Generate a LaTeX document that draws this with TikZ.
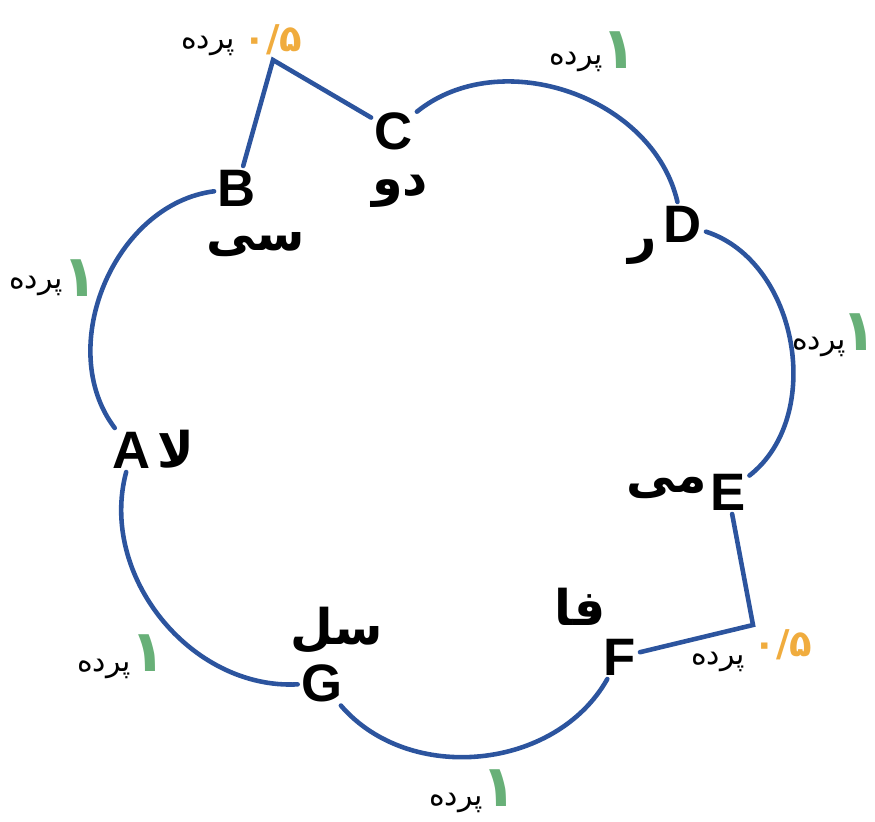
\documentclass[tikz,border=0pt]{standalone}
\usepackage{fontspec}
\setmainfont{Liberation Sans}
\newfontfamily\arabicfont[Script=Arabic]{DejaVu Sans}
\TeXXeTstate=1
\definecolor{lineblue}{RGB}{44,84,158}
\definecolor{tonegreen}{RGB}{104,176,120}
\definecolor{halforange}{RGB}{240,172,62}
\tikzset{
  letter/.style={font=\fontsize{30}{30}\selectfont\bfseries, inner sep=2pt},
  solfa/.style={font=\arabicfont\fontsize{28}{28}\selectfont\bfseries, inner sep=0pt},
  parde/.style={font=\arabicfont\fontsize{17}{17}\selectfont, inner sep=0pt},
  one/.style={font=\arabicfont\fontsize{33}{33}\selectfont\bfseries, text=tonegreen, inner sep=0pt},
  half/.style={font=\arabicfont\fontsize{21}{21}\selectfont\bfseries, text=halforange, inner sep=0pt},
  tone/.style={draw=lineblue, line width=2.6pt, line cap=round},
}

\begin{document}
\begin{tikzpicture}[x=0.02cm,y=-0.02cm]
  \useasboundingbox (0,0) rectangle (875,821);
  % note letters
  \node[letter] (C) at (394,131) {C};
  \node[letter] (D) at (683,224) {D};
  \node[letter] (E) at (728,492) {E};
  \node[letter] (F) at (620,657) {F};
  \node[letter] (G) at (322,683) {G};
  \node[letter] (A) at (132,450) {A};
  \node[letter] (B) at (237,188) {B};
  % persian names
  \node[solfa] (nC) at (400,191) {\beginR دو\endR};
  \node[solfa] (nD) at (643,252) {\beginR ر\endR};
  \node[solfa] (nE) at (667,488) {\beginR می\endR};
  \node[solfa] (nF) at (580,607) {\beginR فا\endR};
  \node[solfa] (nG) at (337,630) {\beginR سل\endR};
  \node[solfa] (nA) at (176,449) {\beginR لا\endR};
  \node[solfa] (nB) at (256,245) {\beginR سی\endR};
  % corners of the half steps
  \coordinate (BC) at (273,60);
  \coordinate (EF) at (753,625);
  % whole steps
  \draw[tone] (C) to[bend left=58] (D);
  \draw[tone] (D) to[bend left=62] (E);
  \draw[tone] (F) to[bend left=55] (G);
  \draw[tone] (G) to[bend left=54] (A);
  \draw[tone] (A) to[bend left=60] (B);
  % half steps
  \draw[tone] (B) -- (BC) -- (C);
  \draw[tone] (E) -- (EF) -- (F);
  % step sizes
  \node[half] (hBC) at (273,40) {۰/۵};
  \node[parde] (pBC) at (208,46) {\beginR پرده\endR};
  \node[one] (oCD) at (619,50) {۱};
  \node[parde] (pCD) at (576,62) {\beginR پرده\endR};
  \node[one] (oDE) at (859,332) {۱};
  \node[parde] (pDE) at (819,347) {\beginR پرده\endR};
  \node[half] (hEF) at (783,645) {۰/۵};
  \node[parde] (pEF) at (718,662) {\beginR پرده\endR};
  \node[one] (oFG) at (499,788) {۱};
  \node[parde] (pFG) at (456,803) {\beginR پرده\endR};
  \node[one] (oGA) at (148,653) {۱};
  \node[parde] (pGA) at (104,669) {\beginR پرده\endR};
  \node[one] (oAB) at (80,278) {۱};
  \node[parde] (pAB) at (36,286) {\beginR پرده\endR};
\end{tikzpicture}
\end{document}
